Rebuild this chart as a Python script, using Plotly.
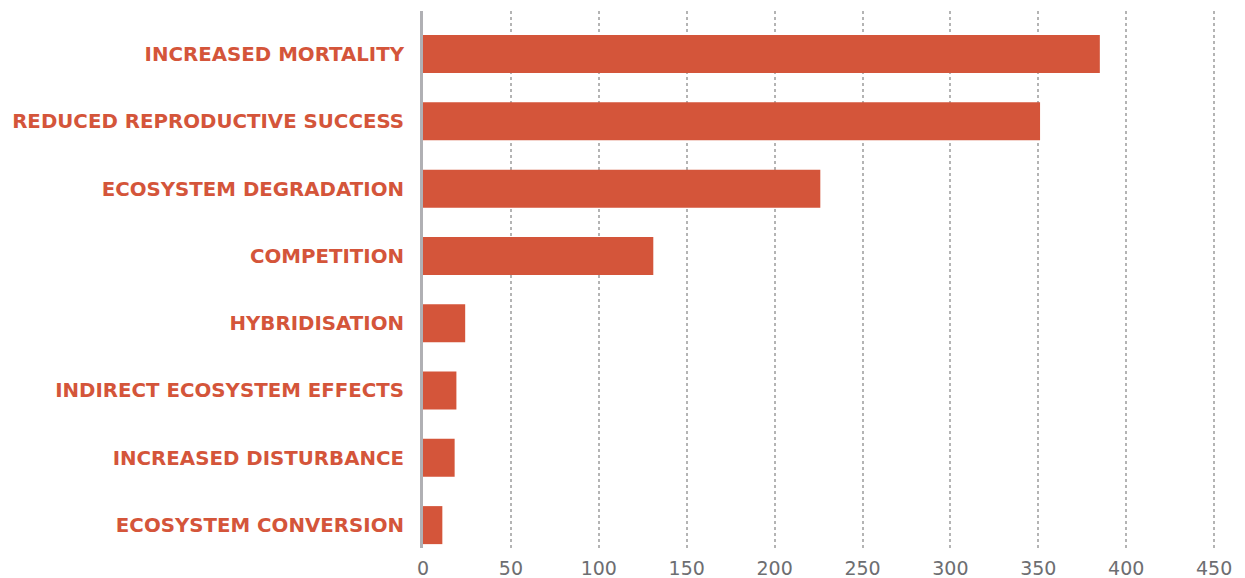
import plotly.graph_objects as go

categories = [
    "INCREASED MORTALITY",
    "REDUCED REPRODUCTIVE SUCCESS",
    "ECOSYSTEM DEGRADATION",
    "COMPETITION",
    "HYBRIDISATION",
    "INDIRECT ECOSYSTEM EFFECTS",
    "INCREASED DISTURBANCE",
    "ECOSYSTEM CONVERSION",
]
values = [385, 351, 226, 131, 24, 19, 18, 11]
x_ticks = [0, 50, 100, 150, 200, 250, 300, 350, 400, 450]

BAR = "#d4553a"

fig = go.Figure(
    go.Bar(
        x=values,
        y=categories,
        orientation="h",
        marker=dict(color=BAR, line=dict(width=0)),
        hoverinfo="x+y",
    )
)

fig.update_layout(
    width=1237,
    height=570,
    margin=dict(l=415, r=20, t=3, b=30, autoexpand=False),
    paper_bgcolor="white",
    plot_bgcolor="white",
    bargap=0.435,
    showlegend=False,
    xaxis=dict(
        range=[0, 456.2],
        tickvals=x_ticks,
        ticktext=[str(v) for v in x_ticks],
        showgrid=True,
        gridcolor="#b4b4b4",
        griddash="dot",
        gridwidth=2,
        zeroline=False,
        showline=False,
        ticks="",
        automargin=False,
        tickfont=dict(family="DejaVu Sans", size=19, color="#6d6e71"),
        ticklabelstandoff=7,
        fixedrange=True,
    ),
    yaxis=dict(
        type="category",
        categoryorder="array",
        categoryarray=categories,
        range=[7.34, -0.64],
        showgrid=False,
        zeroline=False,
        showline=True,
        linecolor="#b0b0b4",
        linewidth=3,
        ticks="",
        automargin=False,
        tickfont=dict(family="DejaVu Sans", size=19.8, color=BAR, weight="bold"),
        ticklabelstandoff=12,
        fixedrange=True,
    ),
)

fig.write_html("out.html")
